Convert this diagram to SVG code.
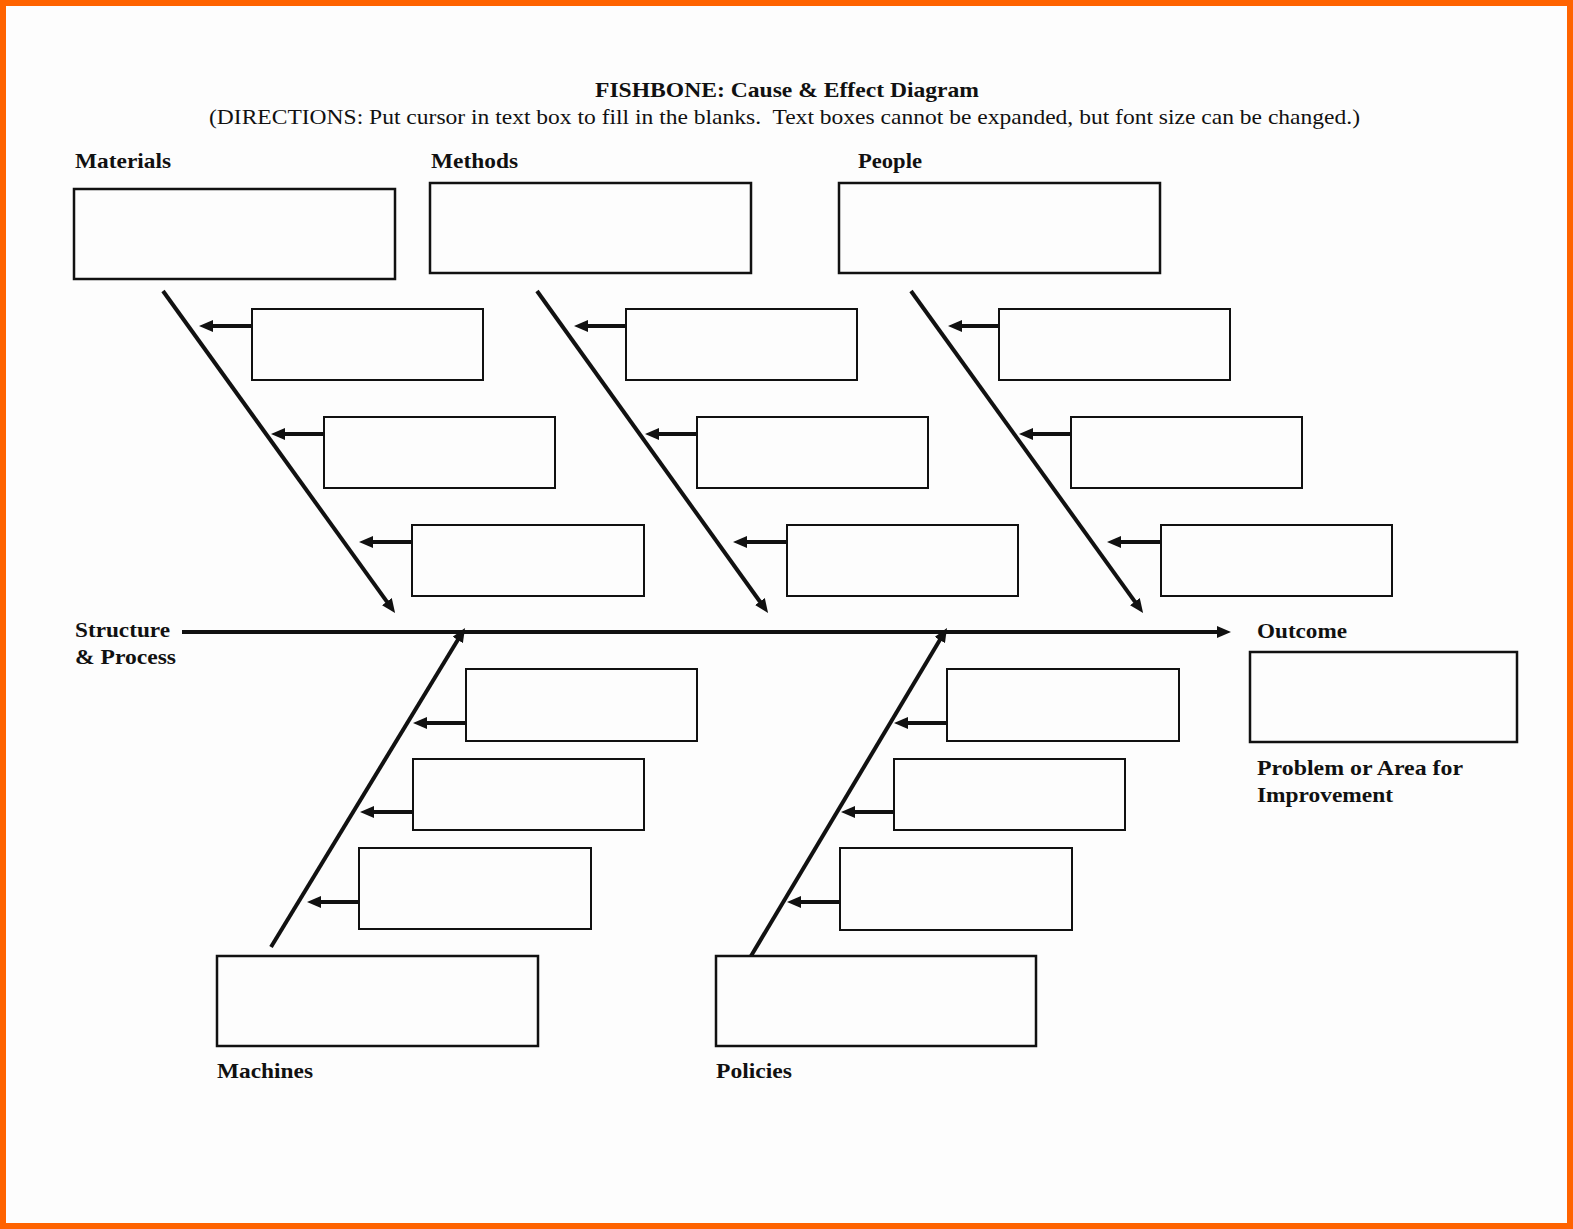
<svg xmlns="http://www.w3.org/2000/svg" width="1573" height="1229" viewBox="0 0 1573 1229">
<style>
.bg{fill:#fdfdfd}
.frame{fill:none;stroke:#ff6300;stroke-width:6}
.box{fill:#fdfdfd;stroke:#111;stroke-width:2}
.big{fill:#fdfdfd;stroke:#111;stroke-width:2.5}
.bone{stroke:#111;stroke-width:4;fill:none;marker-end:url(#ah)}
.twig{stroke:#111;stroke-width:4;fill:none;marker-end:url(#ah)}
.lbl{font-family:"Liberation Serif","Times New Roman",serif;font-weight:bold;font-size:22px;fill:#111}
.title{font-family:"Liberation Serif","Times New Roman",serif;font-weight:bold;font-size:22px;fill:#111}
.sub{font-family:"Liberation Serif","Times New Roman",serif;font-size:21px;fill:#111;white-space:pre}
</style>
<defs>
<marker id="ah" markerUnits="userSpaceOnUse" markerWidth="15" markerHeight="13" refX="7" refY="6" orient="auto">
<path d="M0,0 L14,6 L0,12 Z" fill="#111"/>
</marker>
</defs>
<rect class="bg" x="0" y="0" width="1573" height="1229"/>
<rect class="frame" x="3" y="3" width="1567" height="1223"/>

<g id="title">
<text class="title" x="595" y="97" textLength="384" lengthAdjust="spacingAndGlyphs">FISHBONE: Cause &amp; Effect Diagram</text>
<text class="sub" x="209" y="124" textLength="1151" lengthAdjust="spacingAndGlyphs">(DIRECTIONS: Put cursor in text box to fill in the blanks.  Text boxes cannot be expanded, but font size can be changed.)</text>
</g>

<g id="connectors">
<line class="bone" x1="182" y1="632" x2="1224" y2="632"/>
<line class="bone" x1="163" y1="291" x2="391" y2="607.3"/>
<line class="bone" x1="537" y1="291" x2="764" y2="607.3"/>
<line class="bone" x1="911" y1="291" x2="1139" y2="607.3"/>
<line class="bone" x1="271" y1="947" x2="461.4" y2="634"/>
<line class="bone" x1="751" y1="956" x2="943.4" y2="634"/>
<line class="twig" x1="252" y1="326" x2="206" y2="326"/>
<line class="twig" x1="324" y1="434" x2="278" y2="434"/>
<line class="twig" x1="412" y1="542" x2="366" y2="542"/>
<line class="twig" x1="626" y1="326" x2="581" y2="326"/>
<line class="twig" x1="697" y1="434" x2="652" y2="434"/>
<line class="twig" x1="787" y1="542" x2="740" y2="542"/>
<line class="twig" x1="999" y1="326" x2="955" y2="326"/>
<line class="twig" x1="1071" y1="434" x2="1026" y2="434"/>
<line class="twig" x1="1161" y1="542" x2="1114" y2="542"/>
<line class="twig" x1="466" y1="723" x2="420" y2="723"/>
<line class="twig" x1="413" y1="812" x2="367" y2="812"/>
<line class="twig" x1="359" y1="902" x2="314" y2="902"/>
<line class="twig" x1="947" y1="723" x2="901" y2="723"/>
<line class="twig" x1="894" y1="812" x2="848" y2="812"/>
<line class="twig" x1="840" y1="902" x2="794" y2="902"/>
</g>

<g id="materials">
<text class="lbl" x="75" y="168" textLength="96" lengthAdjust="spacingAndGlyphs">Materials</text>
<rect class="big" x="74" y="189" width="321" height="90"/>
<rect class="box" x="252" y="309" width="231" height="71"/>
<rect class="box" x="324" y="417" width="231" height="71"/>
<rect class="box" x="412" y="525" width="232" height="71"/>
</g>

<g id="methods">
<text class="lbl" x="431" y="168" textLength="87" lengthAdjust="spacingAndGlyphs">Methods</text>
<rect class="big" x="430" y="183" width="321" height="90"/>
<rect class="box" x="626" y="309" width="231" height="71"/>
<rect class="box" x="697" y="417" width="231" height="71"/>
<rect class="box" x="787" y="525" width="231" height="71"/>
</g>

<g id="people">
<text class="lbl" x="858" y="168" textLength="64" lengthAdjust="spacingAndGlyphs">People</text>
<rect class="big" x="839" y="183" width="321" height="90"/>
<rect class="box" x="999" y="309" width="231" height="71"/>
<rect class="box" x="1071" y="417" width="231" height="71"/>
<rect class="box" x="1161" y="525" width="231" height="71"/>
</g>

<g id="structure">
<text class="lbl" x="75" y="637" textLength="95" lengthAdjust="spacingAndGlyphs">Structure</text>
<text class="lbl" x="75" y="664" textLength="101" lengthAdjust="spacingAndGlyphs">&amp; Process</text>
</g>

<g id="outcome">
<text class="lbl" x="1257" y="638" textLength="90" lengthAdjust="spacingAndGlyphs">Outcome</text>
<rect class="big" x="1250" y="652" width="267" height="90"/>
<text class="lbl" x="1257" y="775" textLength="206" lengthAdjust="spacingAndGlyphs">Problem or Area for</text>
<text class="lbl" x="1257" y="802" textLength="136" lengthAdjust="spacingAndGlyphs">Improvement</text>
</g>

<g id="machines">
<rect class="box" x="466" y="669" width="231" height="72"/>
<rect class="box" x="413" y="759" width="231" height="71"/>
<rect class="box" x="359" y="848" width="232" height="81"/>
<rect class="big" x="217" y="956" width="321" height="90"/>
<text class="lbl" x="217" y="1078" textLength="96" lengthAdjust="spacingAndGlyphs">Machines</text>
</g>

<g id="policies">
<rect class="box" x="947" y="669" width="232" height="72"/>
<rect class="box" x="894" y="759" width="231" height="71"/>
<rect class="box" x="840" y="848" width="232" height="82"/>
<rect class="big" x="716" y="956" width="320" height="90"/>
<text class="lbl" x="716" y="1078" textLength="76" lengthAdjust="spacingAndGlyphs">Policies</text>
</g>
</svg>
